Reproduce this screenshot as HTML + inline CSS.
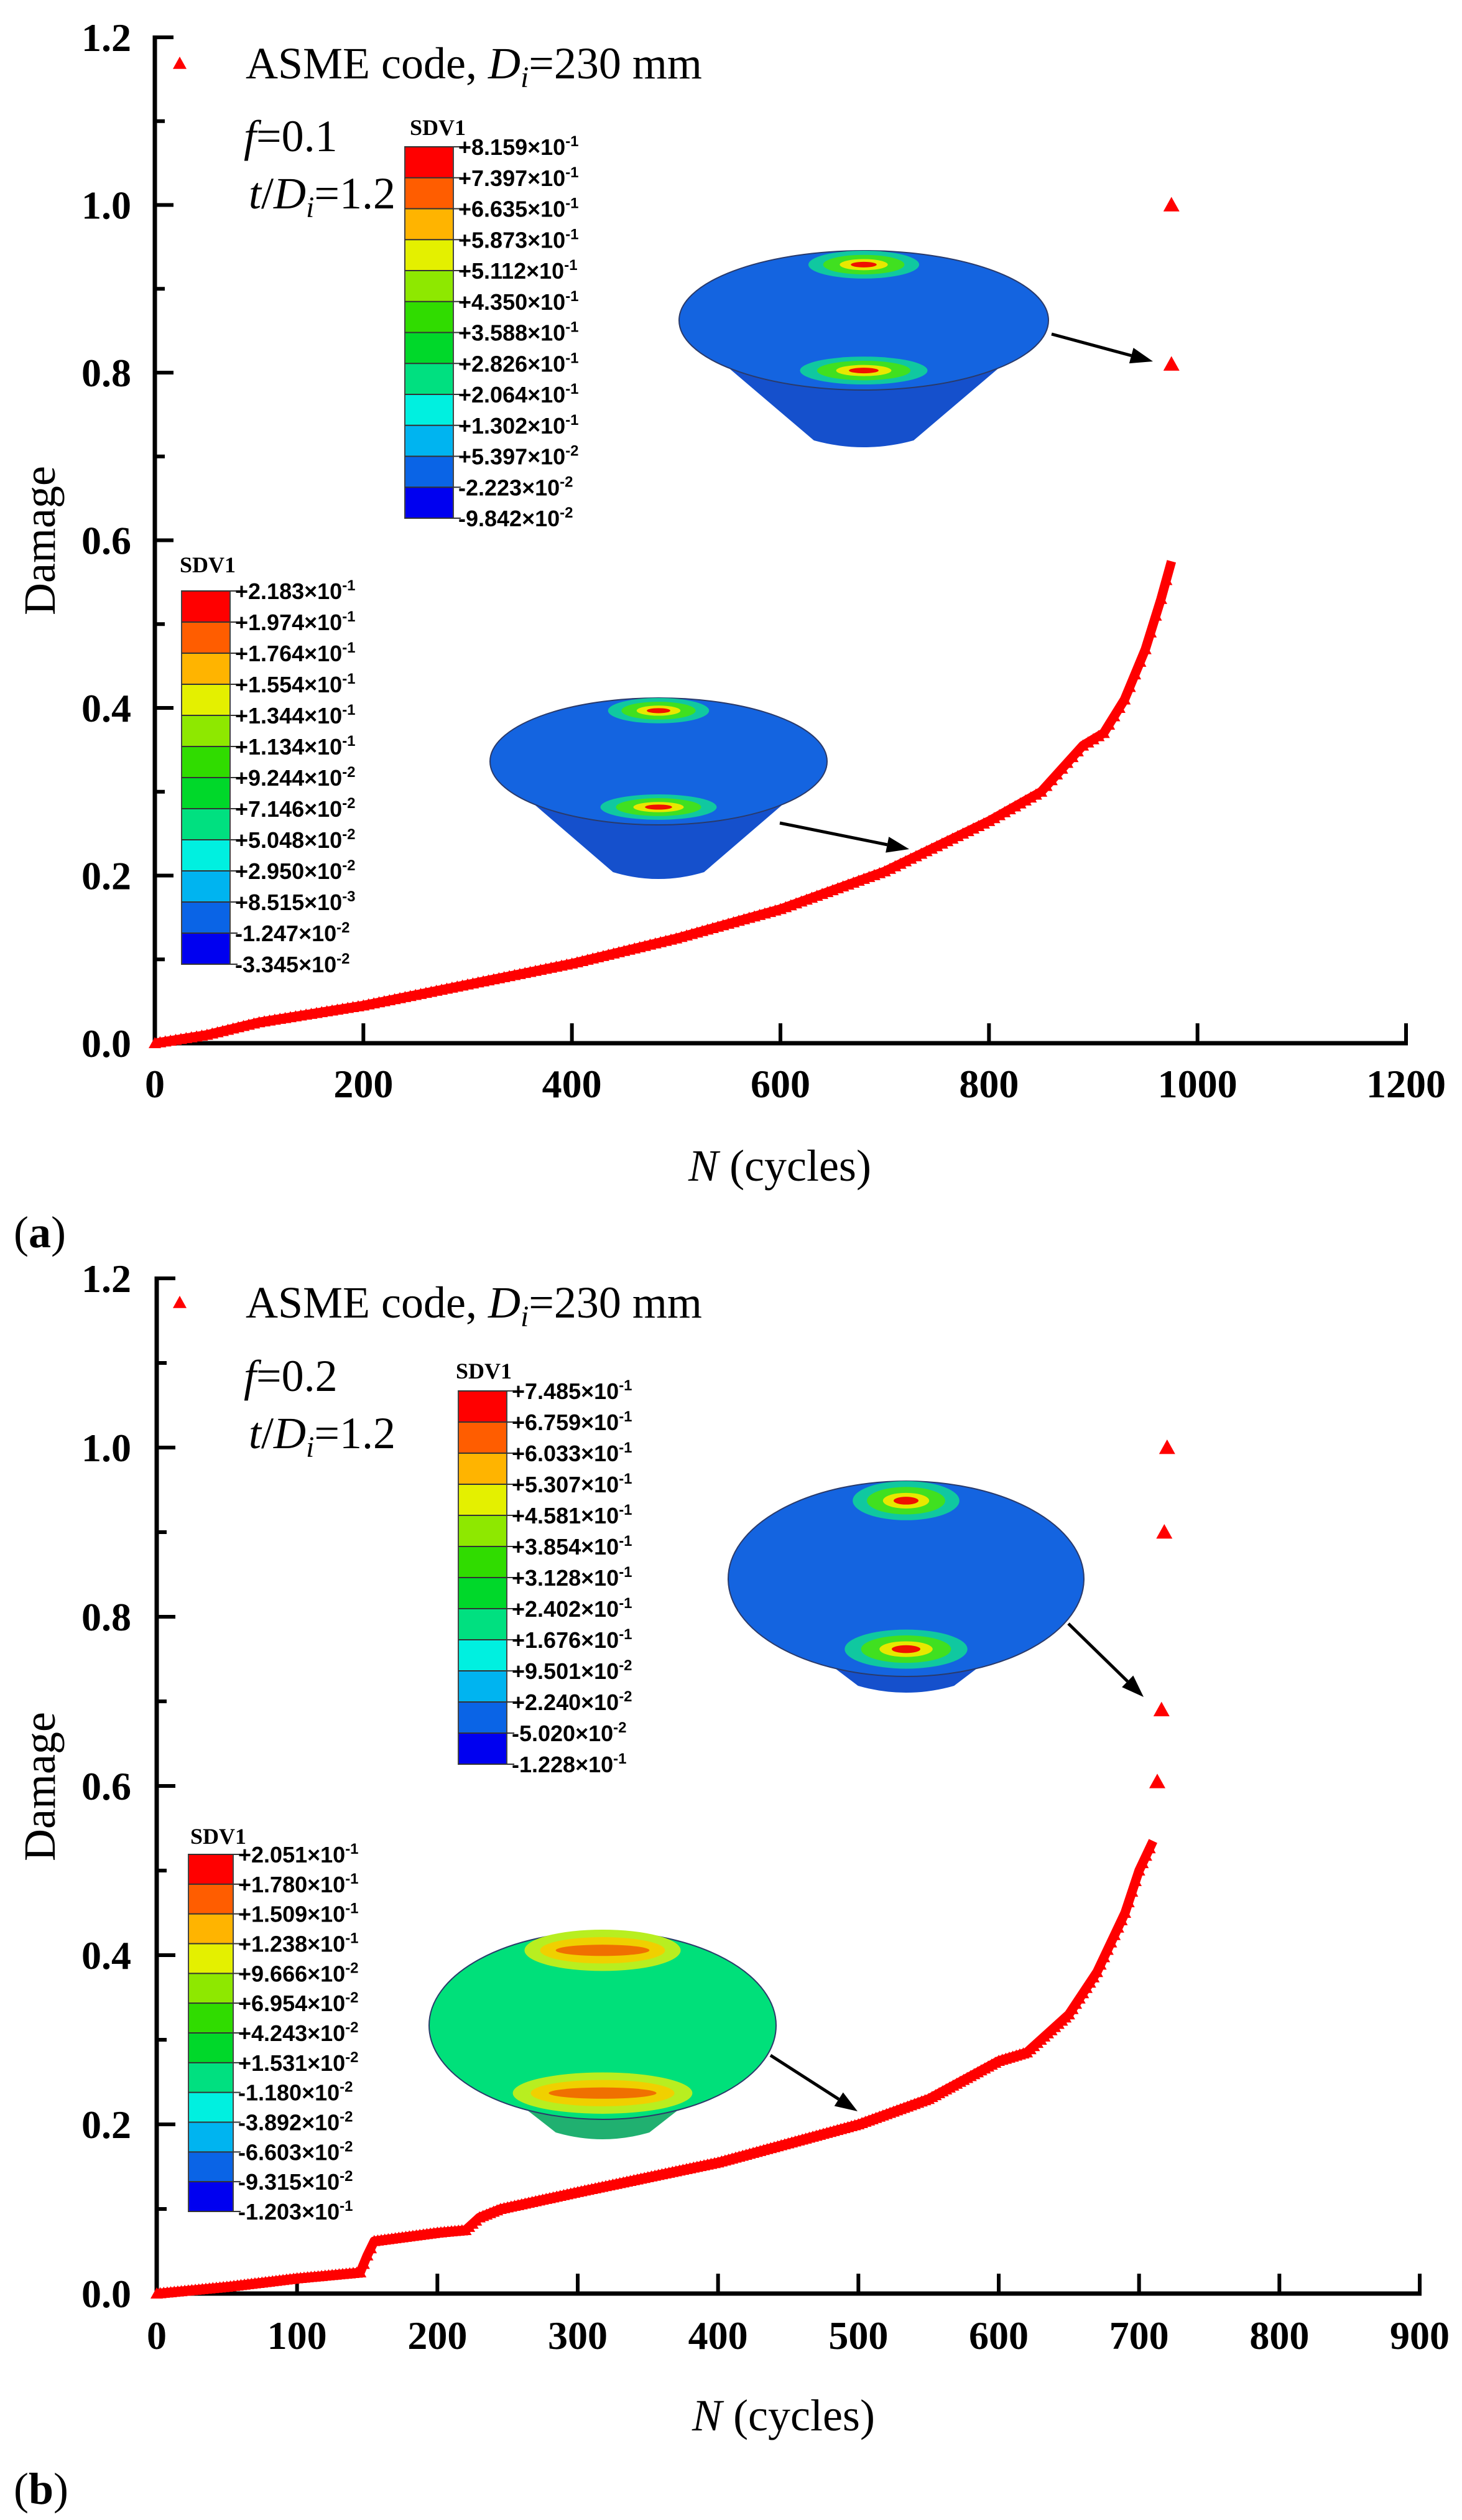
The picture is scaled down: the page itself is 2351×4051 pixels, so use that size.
<!DOCTYPE html>
<html><head><meta charset="utf-8">
<style>
html,body{margin:0;padding:0;background:#fff;}
svg{display:block;}
.tk{font-family:"Liberation Serif","Times New Roman",Times,serif;font-weight:bold;font-size:64px;fill:#000;}
.lg{font-family:"Liberation Serif","Times New Roman",Times,serif;font-size:72px;fill:#000;}
.cb{font-family:"Liberation Sans",Arial,sans-serif;font-weight:bold;font-size:36px;fill:#000;}
.ct{font-family:"Liberation Serif","Times New Roman",Times,serif;font-weight:bold;font-size:36px;fill:#000;}
</style></head>
<body>
<svg id="s" width="2351" height="4051" viewBox="0 0 2351 4051" xmlns="http://www.w3.org/2000/svg">
</svg>
<script>
var S=document.getElementById('s');
var out='';
var SERIF='font-family="Liberation Serif, Times New Roman, serif"';
function add(s){out+=s;}
var cols=['#ff0000','#ff5d00','#ffb400','#e4f000','#8ee800','#30dc00','#00d82a','#00e080','#00f0e0','#00b4f0','#0a64e6','#0000f0'];
function panel(P){
  var X=function(n){return P.x0+n*P.xs;},Y=function(d){return P.y0-d*P.ys;};
  add('<line x1="'+P.x0+'" y1="'+(Y(1.2)-3)+'" x2="'+P.x0+'" y2="'+(P.y0+3)+'" stroke="#000" stroke-width="7"/>');
  add('<line x1="'+(P.x0-3)+'" y1="'+P.y0+'" x2="'+(X(P.xmax)+3)+'" y2="'+P.y0+'" stroke="#000" stroke-width="7"/>');
  for(var i=0;i<=12;i++){var d=i/10,y=Y(d);var len=(i%2==0)?30:16;
    add('<line x1="'+P.x0+'" y1="'+y+'" x2="'+(P.x0+len)+'" y2="'+y+'" stroke="#000" stroke-width="6"/>');
    if(i%2==0)add('<text class="tk" '+SERIF+' x="211" y="'+(y+22)+'" text-anchor="end">'+d.toFixed(1)+'</text>');}
  for(var n=0;n<=P.xmax;n+=P.xstep){var x=X(n);
    add('<line x1="'+x+'" y1="'+P.y0+'" x2="'+x+'" y2="'+(P.y0-32)+'" stroke="#000" stroke-width="6"/>');
    add('<text class="tk" '+SERIF+' x="'+x+'" y="'+P.xlb+'" text-anchor="middle">'+n+'</text>');}
  add('<text class="lg" '+SERIF+' x="'+P.nx+'" y="'+P.ny+'" text-anchor="middle" font-size="78"><tspan font-style="italic">N</tspan> (cycles)</text>');
  add('<text class="lg" '+SERIF+' font-size="80" transform="translate(88,'+P.dy+') rotate(-90)" text-anchor="middle">Damage</text>');
  add('<text class="lg" '+SERIF+' font-size="70" x="22" y="'+P.lab[1]+'">(<tspan font-weight="bold">'+P.lab[0]+'</tspan>)</text>');
  add(tri(289,P.leg,11));
  add('<text class="lg" '+SERIF+' x="395" y="'+(P.leg+24)+'">ASME code, <tspan font-style="italic">D</tspan><tspan font-style="italic" font-size="48" dy="14">i</tspan><tspan dy="-14">=230 mm</tspan></text>');
  add('<text class="lg" '+SERIF+' x="392" y="'+P.fy+'"><tspan font-style="italic">f</tspan>='+P.f+'</text>');
  add('<text class="lg" '+SERIF+' x="400" y="'+P.ty+'"><tspan font-style="italic">t</tspan>/<tspan font-style="italic">D</tspan><tspan font-style="italic" font-size="48" dy="14">i</tspan><tspan dy="-14">=1.2</tspan></text>');
  var pts=P.pts.map(function(p){return X(p[0]).toFixed(1)+','+Y(p[1]).toFixed(1);}).join(' ');
  add('<polyline points="'+pts+'" fill="none" stroke="#f00" stroke-width="15" stroke-linejoin="round"/>');
  for(var k=0;k<P.pts.length-1;k++){var a=P.pts[k],b=P.pts[k+1];var steps=Math.max(1,Math.round((b[0]-a[0])/P.mstep));
    for(var s=0;s<steps;s++){var t=s/steps;add(tri(X(a[0]+(b[0]-a[0])*t),Y(a[1]+(b[1]-a[1])*t),10));}}
  P.iso.forEach(function(p){add(tri(X(p[0]),Y(p[1]),13));});
}
function tri(x,y,r){return '<polygon points="'+x+','+(y-r)+' '+(x-r)+','+(y+r*0.8)+' '+(x+r)+','+(y+r*0.8)+'" fill="#f00"/>';}
function cbar(x,y1,y2,w,labels,tx,ty){
  var h=(y2-y1)/12;
  add('<text class="ct" '+SERIF+' x="'+tx+'" y="'+ty+'">SDV1</text>');
  for(var i=0;i<12;i++)add('<rect x="'+x+'" y="'+(y1+i*h)+'" width="'+w+'" height="'+(h+0.5)+'" fill="'+cols[i]+'"/>');
  add('<rect x="'+x+'" y="'+y1+'" width="'+w+'" height="'+(y2-y1)+'" fill="none" stroke="#444" stroke-width="2"/>');
  for(var i=0;i<13;i++){var y=y1+i*h;
    add('<line x1="'+x+'" y1="'+y+'" x2="'+(x+w+12)+'" y2="'+y+'" stroke="#333" stroke-width="2"/>');
    var m=labels[i].split('e');
    add('<text class="cb" x="'+(x+w+8)+'" y="'+(y+13)+'">'+m[0]+'×10<tspan font-size="24" dy="-14">'+m[1]+'</tspan></text>');}
}
function cone(cx,cy,rx,ry,bot,green){
  var body=green?'#20b070':'#1550cc',top=green?'#00e07a':'#1464e0';
  var w=rx*0.27;
  add('<path d="M'+(cx-rx*0.99)+','+(cy+ry*0.1)+' L'+(cx-w)+','+(bot-14)+' Q'+cx+','+(bot+8)+' '+(cx+w)+','+(bot-14)+' L'+(cx+rx*0.99)+','+(cy+ry*0.1)+' Z" fill="'+body+'"/>');
  add('<ellipse cx="'+cx+'" cy="'+cy+'" rx="'+rx+'" ry="'+ry+'" fill="'+top+'" stroke="#2a3a6a" stroke-width="2"/>');
  var sp=function(y,s){
    if(green){
      add('<ellipse cx="'+cx+'" cy="'+y+'" rx="'+rx*0.45*s+'" ry="'+ry*0.22+'" fill="#b8ee20"/>');
      add('<ellipse cx="'+cx+'" cy="'+y+'" rx="'+rx*0.36*s+'" ry="'+ry*0.14+'" fill="#f0d000"/>');
      add('<ellipse cx="'+cx+'" cy="'+y+'" rx="'+rx*0.27*s+'" ry="'+ry*0.06+'" fill="#f07000"/>');
    }else{
      add('<ellipse cx="'+cx+'" cy="'+y+'" rx="'+rx*0.3*s+'" ry="'+ry*0.2+'" fill="#10c8a0"/>');
      add('<ellipse cx="'+cx+'" cy="'+y+'" rx="'+rx*0.22*s+'" ry="'+ry*0.14+'" fill="#40e020"/>');
      add('<ellipse cx="'+cx+'" cy="'+y+'" rx="'+rx*0.13*s+'" ry="'+ry*0.08+'" fill="#e8e800"/>');
      add('<ellipse cx="'+cx+'" cy="'+y+'" rx="'+rx*0.07*s+'" ry="'+ry*0.04+'" fill="#f01000"/>');
    }};
  sp(cy-ry*0.8,1);sp(cy+ry*0.72,1.15);
}
function arrow(x1,y1,x2,y2){
  var a=Math.atan2(y2-y1,x2-x1),L=36,W=13;
  var bx=x2-L*Math.cos(a),by=y2-L*Math.sin(a);
  add('<line x1="'+x1+'" y1="'+y1+'" x2="'+bx+'" y2="'+by+'" stroke="#000" stroke-width="5"/>');
  add('<polygon points="'+x2+','+y2+' '+(bx+W*Math.sin(a))+','+(by-W*Math.cos(a))+' '+(bx-W*Math.sin(a))+','+(by+W*Math.cos(a))+'" fill="#000"/>');
}
panel({x0:249,y0:1677,xs:2012/1200,ys:1617/1.2,xmax:1200,xstep:200,xlb:1764,nx:1254,ny:1898,dy:869,lab:['a',2005],
 leg:102,fy:243,ty:335,f:'0.1',mstep:5,
 pts:[[0,0],[50,0.01],[100,0.025],[200,0.045],[300,0.07],[400,0.095],[500,0.125],[600,0.16],[700,0.205],[800,0.265],[850,0.3],[890,0.355],[910,0.37],[930,0.41],[950,0.47],[965,0.53],[975,0.575]],
 iso:[[975,0.81],[975,1.0]]});
cbar(651,236,833,78,['+8.159e-1','+7.397e-1','+6.635e-1','+5.873e-1','+5.112e-1','+4.350e-1','+3.588e-1','+2.826e-1','+2.064e-1','+1.302e-1','+5.397e-2','-2.223e-2','-9.842e-2'],659,217);
cbar(292,950,1550,78,['+2.183e-1','+1.974e-1','+1.764e-1','+1.554e-1','+1.344e-1','+1.134e-1','+9.244e-2','+7.146e-2','+5.048e-2','+2.950e-2','+8.515e-3','-1.247e-2','-3.345e-2'],289,920);
cone(1389,515,297,112,722,false);
cone(1059,1224,271,102,1416,false);
arrow(1691,537,1854,581);arrow(1254,1323,1462,1365);
panel({x0:252,y0:3687,xs:2031/900,ys:1632/1.2,xmax:900,xstep:100,xlb:3776,nx:1260,ny:3907,dy:2872,lab:['b',4025],
 leg:2094,fy:2236,ty:2328,f:'0.2',mstep:2.5,
 pts:[[0,0],[50,0.008],[100,0.018],[145,0.025],[150,0.045],[155,0.062],[200,0.072],[220,0.075],[230,0.09],[245,0.1],[300,0.12],[400,0.155],[500,0.2],[550,0.23],[600,0.275],[620,0.285],[650,0.33],[670,0.38],[690,0.45],[700,0.5],[710,0.535]],
 iso:[[713,0.605],[716,0.69],[718,0.9],[720,1.0]]});
cbar(737,2236,2836,78,['+7.485e-1','+6.759e-1','+6.033e-1','+5.307e-1','+4.581e-1','+3.854e-1','+3.128e-1','+2.402e-1','+1.676e-1','+9.501e-2','+2.240e-2','-5.020e-2','-1.228e-1'],733,2216);
cbar(303,2981,3555,72,['+2.051e-1','+1.780e-1','+1.509e-1','+1.238e-1','+9.666e-2','+6.954e-2','+4.243e-2','+1.531e-2','-1.180e-2','-3.892e-2','-6.603e-2','-9.315e-2','-1.203e-1'],306,2964);
cone(1457,2538,286,157,2724,false);
cone(969,3256,279,151,3442,true);
arrow(1718,2610,1839,2728);arrow(1239,3304,1379,3394);
S.innerHTML+=out;
</script>
</body></html>
